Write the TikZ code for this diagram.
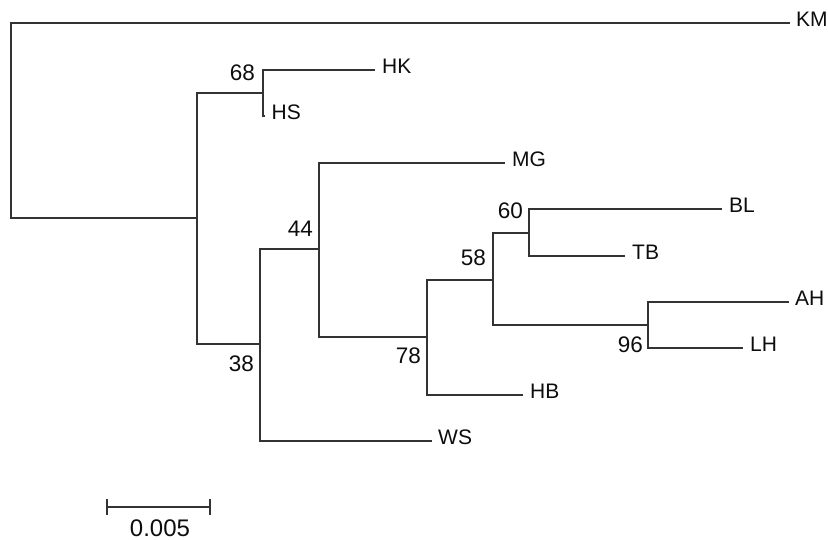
\documentclass[tikz,border=0pt]{standalone}
\usepackage{fontspec}
\setmainfont{Liberation Sans}
\begin{document}
\begin{tikzpicture}[x=1pt,y=-1pt,
  br/.style={draw=black!80,line width=1.5pt},
  leaf/.style={anchor=west,inner sep=0pt,text=black!95,font=\fontsize{21}{24}\selectfont},
  boot/.style={anchor=east,inner sep=0pt,text=black!95,font=\fontsize{22.5}{26}\selectfont}]
\useasboundingbox (0,0) rectangle (828,540);
% internal nodes
\coordinate (r) at (11,120);
\coordinate (A) at (197,218);
\coordinate (n68) at (263,93);
\coordinate (n38) at (260,344);
\coordinate (n44) at (319,249);
\coordinate (n78) at (427,337);
\coordinate (n58) at (493,280);
\coordinate (n60) at (529,233);
\coordinate (n96) at (648,325);
% leaf ends
\coordinate (KM) at (790,23);
\coordinate (HK) at (375,70);
\coordinate (HS) at (264.5,116);
\coordinate (MG) at (505,163);
\coordinate (BL) at (722,209);
\coordinate (TB) at (625,256);
\coordinate (AH) at (789,302);
\coordinate (LH) at (743,348);
\coordinate (HB) at (523,395);
\coordinate (WS) at (432,441);
% branches
\draw[br] (r) |- (KM);
\draw[br] (r) |- (A);
\draw[br] (A) |- (n68);
\draw[br] (A) |- (n38);
\draw[br] (n68) |- (HK);
\draw[br] (n68) |- (HS);
\draw[br] (n38) |- (n44);
\draw[br] (n38) |- (WS);
\draw[br] (n44) |- (MG);
\draw[br] (n44) |- (n78);
\draw[br] (n78) |- (n58);
\draw[br] (n78) |- (HB);
\draw[br] (n58) |- (n60);
\draw[br] (n58) |- (n96);
\draw[br] (n60) |- (BL);
\draw[br] (n60) |- (TB);
\draw[br] (n96) |- (AH);
\draw[br] (n96) |- (LH);
% leaf labels
\node[leaf] (tKM) at ([xshift=6pt,yshift=4pt]KM) {KM};
\node[leaf] (tHK) at ([xshift=7pt,yshift=3.5pt]HK) {HK};
\node[leaf] (tHS) at ([xshift=7pt,yshift=3.5pt]HS) {HS};
\node[leaf] (tMG) at ([xshift=7pt,yshift=3.5pt]MG) {MG};
\node[leaf] (tBL) at ([xshift=7pt,yshift=3.5pt]BL) {BL};
\node[leaf] (tTB) at ([xshift=7pt,yshift=3.5pt]TB) {TB};
\node[leaf] (tAH) at ([xshift=6pt,yshift=3.5pt]AH) {AH};
\node[leaf] (tLH) at ([xshift=7pt,yshift=3.5pt]LH) {LH};
\node[leaf] (tHB) at ([xshift=7pt,yshift=3.5pt]HB) {HB};
\node[leaf] (tWS) at ([xshift=6pt,yshift=3.5pt]WS) {WS};
% bootstrap values
\node[boot] (b68) at (255,73) {68};
\node[boot] (b44) at (313,229) {44};
\node[boot] (b38) at (254,364) {38};
\node[boot] (b78) at (421,356) {78};
\node[boot] (b58) at (486,258) {58};
\node[boot] (b60) at (523,211) {60};
\node[boot] (b96) at (643,345) {96};
% scale bar
\coordinate (s1) at (107,507);
\coordinate (s2) at (210,507);
\draw[br] (s1) -- (s2);
\draw[br] ([yshift=-8pt]s1) -- ([yshift=8pt]s1);
\draw[br] ([yshift=-8pt]s2) -- ([yshift=8pt]s2);
\node[inner sep=0pt,text=black!95,font=\fontsize{24}{28}\selectfont] (sl) at (160,528) {0.005};
\end{tikzpicture}
\end{document}
